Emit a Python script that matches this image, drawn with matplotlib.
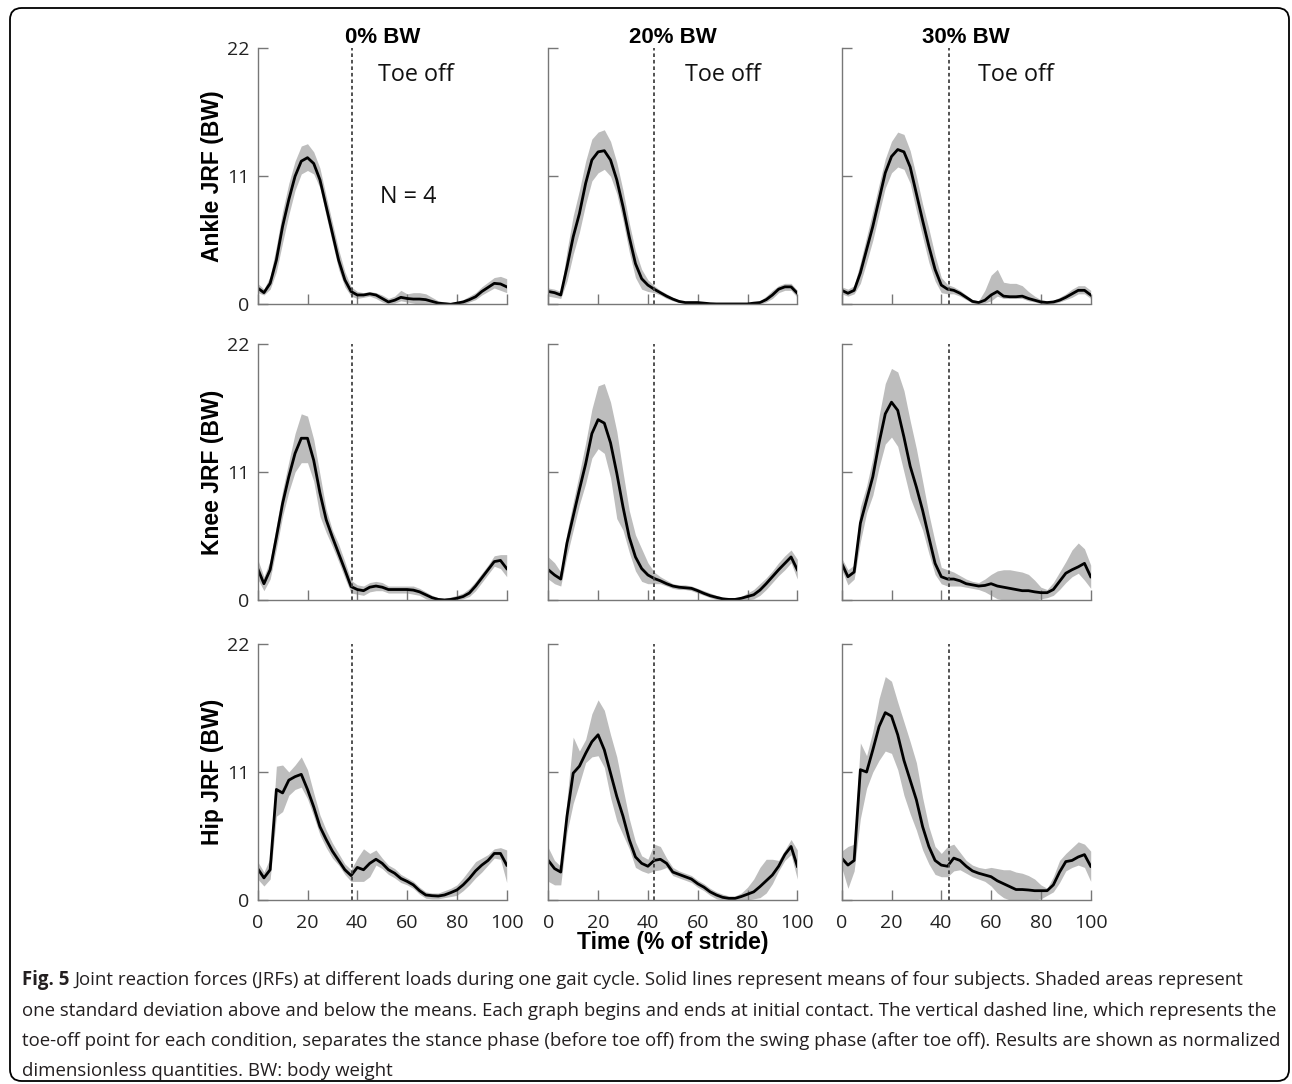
import matplotlib.pyplot as plt
from matplotlib.patches import FancyBboxPatch

# stride samples (% of stride)
stride = [0, 2.5, 5, 7.5, 10, 12.5, 15, 17.5, 20, 22.5, 25, 27.5, 30, 32.5, 35, 37.5, 40,
          42.5, 45, 47.5, 50, 52.5, 55, 57.5, 60, 62.5, 65, 67.5, 70, 72.5, 75, 77.5, 80,
          82.5, 85, 87.5, 90, 92.5, 95, 97.5, 100]

loads = ["0% BW", "20% BW", "30% BW"]
joints = ["Ankle JRF (BW)", "Knee JRF (BW)", "Hip JRF (BW)"]
toe_off = [38.0, 42.3, 43.0]

# ---- ankle ----
ankle_0_mean = [1.4, 1.0, 1.8, 3.8, 6.7, 9.0, 11.0, 12.3, 12.6, 12.1, 10.7, 8.4, 6.1, 3.8, 2.1, 1.1, 0.8,
                0.8, 0.9, 0.8, 0.5, 0.2, 0.35, 0.6, 0.5, 0.45, 0.45, 0.4, 0.25, 0.1, 0.05, 0.0, 0.1,
                0.2, 0.4, 0.65, 1.1, 1.45, 1.8, 1.75, 1.5]
ankle_0_lo = [1.0, 0.8, 1.3, 2.8, 5.3, 7.7, 9.8, 11.2, 11.5, 11.2, 10.0, 7.6, 5.3, 3.0, 1.5, 0.7, 0.5,
              0.6, 0.7, 0.5, 0.2, 0.0, 0.1, 0.3, 0.2, 0.1, 0.0, 0.0, 0.0, 0.0, 0.0, 0.0, 0.0,
              0.0, 0.2, 0.4, 0.8, 1.1, 1.4, 1.2, 1.0]
ankle_0_hi = [1.8, 1.3, 2.4, 5.0, 8.0, 10.4, 12.3, 13.6, 13.8, 13.1, 11.7, 9.3, 7.0, 4.7, 2.8, 1.5, 1.1,
              1.0, 1.1, 1.0, 0.8, 0.5, 0.7, 1.2, 0.9, 1.0, 1.0, 0.9, 0.6, 0.3, 0.2, 0.15, 0.25,
              0.4, 0.7, 1.0, 1.5, 1.9, 2.3, 2.4, 2.2]

ankle_20_mean = [1.1, 1.0, 0.8, 3.2, 5.8, 7.8, 10.4, 12.4, 13.1, 13.2, 12.4, 10.7, 8.4, 5.8, 3.5, 2.2, 1.65,
                 1.3, 1.0, 0.7, 0.45, 0.25, 0.15, 0.15, 0.15, 0.1, 0.05, 0.03, 0.03, 0.03, 0.03, 0.03, 0.03,
                 0.1, 0.15, 0.4, 0.8, 1.3, 1.5, 1.5, 0.95]
ankle_20_lo = [0.7, 0.6, 0.5, 2.0, 4.3, 6.2, 8.6, 10.6, 11.3, 11.6, 11.0, 9.5, 7.2, 4.5, 2.3, 1.3, 1.1,
               1.0, 0.8, 0.5, 0.3, 0.15, 0.1, 0.05, 0.05, 0.0, 0.0, 0.0, 0.0, 0.0, 0.0, 0.0, 0.0,
               0.0, 0.0, 0.2, 0.5, 1.0, 1.2, 1.2, 0.6]
ankle_20_hi = [1.4, 1.3, 1.1, 4.6, 7.6, 9.8, 12.3, 14.2, 14.8, 15.0, 14.0, 12.2, 9.8, 7.0, 4.6, 3.0, 2.1,
               1.6, 1.2, 0.9, 0.6, 0.35, 0.25, 0.25, 0.25, 0.2, 0.15, 0.1, 0.1, 0.1, 0.1, 0.1, 0.1,
               0.2, 0.3, 0.7, 1.2, 1.6, 1.8, 1.8, 1.2]

ankle_30_mean = [1.2, 0.95, 1.2, 2.7, 4.7, 6.7, 9.0, 11.3, 12.7, 13.3, 13.1, 11.8, 9.5, 7.2, 5.0, 3.0, 1.65,
                 1.3, 1.2, 0.95, 0.6, 0.25, 0.15, 0.35, 0.8, 1.1, 0.7, 0.65, 0.65, 0.7, 0.5, 0.35, 0.2,
                 0.15, 0.2, 0.35, 0.6, 0.9, 1.2, 1.2, 0.8]
ankle_30_lo = [0.9, 0.7, 0.9, 1.8, 3.6, 5.5, 7.8, 10.0, 11.3, 11.8, 11.6, 10.4, 8.0, 5.8, 3.6, 2.0, 1.0,
               0.9, 0.9, 0.7, 0.4, 0.1, 0.05, 0.1, 0.3, 0.7, 0.5, 0.5, 0.5, 0.5, 0.3, 0.2, 0.05,
               0.0, 0.05, 0.2, 0.4, 0.6, 0.9, 0.9, 0.5]
ankle_30_hi = [1.5, 1.3, 1.6, 3.6, 5.8, 8.0, 10.3, 12.5, 14.0, 14.8, 14.6, 13.2, 11.0, 8.6, 6.5, 4.2, 2.3,
               1.7, 1.5, 1.2, 0.8, 0.4, 0.3, 1.2, 2.5, 3.0, 1.9, 1.8, 1.8, 1.6, 1.1, 0.7, 0.4,
               0.3, 0.35, 0.6, 0.9, 1.3, 1.6, 1.6, 1.2]

# ---- knee ----
knee_0_mean = [2.7, 1.4, 2.6, 5.4, 8.3, 10.6, 12.6, 13.9, 13.9, 12.0, 9.2, 6.9, 5.4, 4.0, 2.6, 1.15, 0.9,
               0.8, 1.1, 1.2, 1.1, 0.9, 0.9, 0.9, 0.9, 0.85, 0.7, 0.45, 0.2, 0.05, 0.0, 0.05, 0.15,
               0.3, 0.6, 1.2, 1.9, 2.6, 3.3, 3.4, 2.7]
knee_0_lo = [1.8, 0.8, 1.8, 4.4, 7.2, 9.3, 11.0, 11.8, 11.8, 10.2, 7.2, 5.8, 4.6, 3.3, 1.9, 0.6, 0.5,
             0.4, 0.7, 0.8, 0.8, 0.6, 0.6, 0.6, 0.6, 0.5, 0.4, 0.1, 0.0, 0.0, 0.0, 0.0, 0.0,
             0.1, 0.3, 0.8, 1.5, 2.2, 2.9, 2.7, 2.0]
knee_0_hi = [3.5, 2.0, 3.4, 6.4, 9.4, 11.9, 14.3, 16.0, 15.8, 13.8, 10.8, 7.8, 6.0, 4.8, 3.3, 1.7, 1.3,
             1.2, 1.5, 1.6, 1.5, 1.2, 1.2, 1.2, 1.2, 1.2, 1.0, 0.7, 0.4, 0.2, 0.15, 0.25, 0.4,
             0.6, 1.0, 1.6, 2.3, 3.0, 3.8, 3.9, 3.9]

knee_20_mean = [2.6, 2.15, 1.8, 4.9, 7.2, 9.5, 11.7, 14.3, 15.5, 15.2, 13.5, 10.9, 8.0, 5.4, 3.7, 2.7, 2.15,
                1.85, 1.65, 1.4, 1.2, 1.1, 1.05, 1.0, 0.8, 0.57, 0.37, 0.23, 0.1, 0.05, 0.05, 0.15, 0.3,
                0.45, 0.85, 1.4, 2.0, 2.6, 3.15, 3.7, 2.6]
knee_20_lo = [1.8, 1.4, 1.2, 3.8, 6.0, 8.2, 10.0, 12.2, 13.0, 12.6, 10.5, 7.0, 6.0, 4.1, 2.5, 1.6, 1.4,
              1.4, 1.4, 1.2, 1.0, 0.9, 0.9, 0.8, 0.6, 0.4, 0.2, 0.05, 0.0, 0.0, 0.0, 0.0, 0.0,
              0.1, 0.4, 0.9, 1.5, 2.1, 2.6, 3.2, 1.8]
knee_20_hi = [3.7, 3.2, 2.4, 5.8, 8.4, 10.9, 13.5, 16.4, 18.4, 18.6, 17.0, 14.5, 11.0, 7.7, 5.6, 4.4, 3.2,
              2.4, 2.0, 1.7, 1.4, 1.3, 1.3, 1.2, 1.0, 0.8, 0.6, 0.4, 0.25, 0.15, 0.15, 0.3, 0.6,
              0.9, 1.4, 1.9, 2.5, 3.2, 3.8, 4.3, 3.5]

knee_30_mean = [3.15, 2.0, 2.4, 6.6, 8.6, 10.6, 13.5, 16.0, 17.0, 16.3, 14.0, 11.5, 9.7, 7.7, 5.4, 3.15, 2.0,
                1.8, 1.8, 1.65, 1.4, 1.3, 1.2, 1.25, 1.4, 1.2, 1.1, 1.0, 0.9, 0.8, 0.8, 0.7, 0.63,
                0.63, 0.9, 1.6, 2.3, 2.6, 2.85, 3.15, 2.0]
knee_30_lo = [2.6, 1.3, 1.8, 5.0, 7.5, 9.0, 11.4, 13.4, 14.0, 13.2, 11.0, 8.8, 7.4, 6.0, 4.0, 2.2, 1.4,
              1.2, 1.2, 1.2, 1.1, 1.0, 0.9, 0.7, 0.4, 0.1, 0.0, 0.0, 0.0, 0.0, 0.0, 0.0, 0.1,
              0.2, 0.4, 0.9, 1.5, 2.0, 2.3, 1.7, 1.0]
knee_30_hi = [3.6, 2.6, 3.0, 8.0, 9.8, 12.2, 15.8, 18.6, 19.9, 19.6, 18.0, 15.4, 13.0, 10.2, 7.4, 5.0, 2.8,
              2.6, 2.4, 2.1, 1.8, 1.6, 1.5, 1.8, 2.2, 2.5, 2.6, 2.6, 2.5, 2.4, 2.2, 1.7, 1.1,
              0.9, 1.5, 2.4, 3.3, 4.3, 4.9, 4.4, 3.0]

# ---- hip ----
hip_0_mean = [2.7, 1.9, 2.6, 9.5, 9.2, 10.3, 10.6, 10.8, 9.5, 8.0, 6.3, 5.2, 4.2, 3.4, 2.6, 2.1, 2.8,
              2.6, 3.15, 3.5, 3.15, 2.6, 2.3, 1.85, 1.6, 1.3, 0.8, 0.43, 0.37, 0.34, 0.43, 0.63, 0.86,
              1.3, 1.85, 2.5, 3.0, 3.4, 4.0, 4.0, 3.0]
hip_0_lo = [1.8, 1.2, 1.8, 7.2, 7.6, 9.0, 9.5, 9.7, 8.7, 7.2, 5.6, 4.5, 3.6, 3.0, 2.2, 1.6, 1.6,
            1.6, 2.0, 3.0, 2.7, 2.2, 1.9, 1.5, 1.3, 1.0, 0.5, 0.15, 0.1, 0.1, 0.2, 0.3, 0.4,
            0.8, 1.3, 1.9, 2.4, 3.0, 3.6, 3.5, 1.5]
hip_0_hi = [3.3, 2.4, 3.6, 11.5, 11.6, 11.0, 11.6, 12.3, 11.2, 9.2, 7.3, 6.0, 4.9, 4.0, 3.1, 2.6, 3.6,
            4.4, 4.0, 4.3, 3.6, 3.0, 2.7, 2.2, 1.9, 1.6, 1.1, 0.7, 0.6, 0.6, 0.8, 1.0, 1.3,
            1.9, 2.6, 3.3, 3.6, 3.9, 4.4, 4.5, 4.3]

hip_20_mean = [3.4, 2.7, 2.4, 7.2, 10.9, 11.5, 12.6, 13.6, 14.2, 12.9, 10.9, 8.9, 7.2, 5.2, 3.7, 3.15, 2.9,
               3.4, 3.5, 3.15, 2.4, 2.2, 2.0, 1.8, 1.4, 1.1, 0.7, 0.43, 0.23, 0.14, 0.14, 0.3, 0.5,
               0.7, 1.15, 1.65, 2.15, 2.9, 3.9, 4.6, 2.9]
hip_20_lo = [1.6, 1.3, 1.3, 5.8, 8.3, 10.0, 11.8, 12.3, 12.4, 11.4, 8.8, 6.8, 5.6, 4.4, 2.8, 2.5, 2.3,
             2.5, 2.6, 2.8, 2.1, 1.9, 1.7, 1.5, 1.1, 0.8, 0.4, 0.1, 0.0, 0.0, 0.0, 0.0, 0.0,
             0.1, 0.2, 0.6, 1.4, 2.5, 3.4, 3.9, 1.8]
hip_20_hi = [4.5, 3.4, 2.9, 8.6, 14.0, 12.8, 13.8, 16.0, 17.2, 16.3, 14.2, 12.3, 9.6, 7.0, 5.0, 3.8, 3.5,
             4.8, 4.6, 3.6, 2.8, 2.5, 2.3, 2.1, 1.7, 1.4, 1.0, 0.7, 0.5, 0.35, 0.35, 0.6, 1.1,
             1.8, 2.8, 3.5, 3.5, 3.4, 4.3, 5.2, 4.3]

hip_30_mean = [3.6, 3.0, 3.4, 11.2, 11.0, 12.9, 14.9, 16.1, 15.8, 14.2, 12.0, 10.3, 8.6, 6.3, 4.6, 3.4, 3.0,
               2.9, 3.6, 3.4, 2.9, 2.5, 2.3, 2.15, 2.0, 1.65, 1.4, 1.15, 0.9, 0.9, 0.86, 0.8, 0.8,
               0.8, 1.3, 2.4, 3.3, 3.4, 3.7, 3.9, 2.9]
hip_30_lo = [2.8, 1.0, 2.5, 7.0, 9.6, 11.0, 12.0, 12.8, 12.6, 11.2, 9.0, 7.4, 6.0, 4.3, 3.1, 2.2, 2.0,
             2.0, 2.5, 2.6, 2.3, 2.0, 1.8, 1.6, 1.2, 0.6, 0.2, 0.0, 0.0, 0.0, 0.0, 0.0, 0.1,
             0.4, 0.7, 1.5, 2.5, 2.8, 3.0, 2.8, 1.6]
hip_30_hi = [4.2, 4.6, 4.8, 13.5, 12.4, 14.5, 17.3, 19.2, 18.8, 17.0, 15.3, 13.6, 11.8, 8.8, 6.3, 4.6, 4.0,
             4.6, 4.8, 4.1, 3.4, 3.0, 2.8, 2.7, 2.8, 2.7, 2.6, 2.6, 2.4, 2.3, 2.1, 1.8, 1.3,
             1.0, 2.0, 3.4, 4.0, 4.5, 5.0, 4.8, 4.2]

panels = [
    [(ankle_0_mean, ankle_0_lo, ankle_0_hi), (ankle_20_mean, ankle_20_lo, ankle_20_hi),
     (ankle_30_mean, ankle_30_lo, ankle_30_hi)],
    [(knee_0_mean, knee_0_lo, knee_0_hi), (knee_20_mean, knee_20_lo, knee_20_hi),
     (knee_30_mean, knee_30_lo, knee_30_hi)],
    [(hip_0_mean, hip_0_lo, hip_0_hi), (hip_20_mean, hip_20_lo, hip_20_hi),
     (hip_30_mean, hip_30_lo, hip_30_hi)],
]

W, H = 1292, 1084
fig = plt.figure(figsize=(W / 100, H / 100), dpi=100)

col_left = [257.7, 548.3, 841.7]
row_top = [48.3, 344.0, 644.0]
ax_w, ax_h = 249.0, 256.0
toe_text_x = [48.5, 54.8, 54.7]

spine_col = "#777777"
band_col = "#bdbdbd"
tick_family, tick_size = "Open Sans", 14

for r in range(3):
    for c in range(3):
        ax = fig.add_axes([col_left[c] / W, 1 - (row_top[r] + ax_h) / H, ax_w / W, ax_h / H])
        mean, lo, hi = panels[r][c]
        ax.fill_between(stride, lo, hi, color=band_col, lw=0)
        ax.plot(stride, mean, color="black", lw=2.0, solid_joinstyle="round")
        ax.axvline(toe_off[c], color="#444444", lw=1.3, ls=(0, (2.0, 1.6)))
        ax.set_xlim(0, 100)
        ax.set_ylim(0, 22)
        ax.set_xticks([0, 20, 40, 60, 80, 100])
        ax.set_yticks([0, 11, 22])
        for s in ("top", "right"):
            ax.spines[s].set_visible(False)
        for s in ("left", "bottom"):
            ax.spines[s].set_color(spine_col)
            ax.spines[s].set_linewidth(1.0)
        ax.tick_params(direction="in", length=7.5, width=1.0, color=spine_col,
                       labelcolor="#222222")
        ax.tick_params(axis="y", pad=6)
        ax.tick_params(axis="x", pad=10)
        for lab in ax.get_xticklabels() + ax.get_yticklabels():
            lab.set_fontfamily(tick_family)
            lab.set_fontsize(tick_size)
        if c == 0:
            ax.set_ylabel(joints[r], family="Liberation Sans", weight="bold",
                          fontsize=16.5, labelpad=2)
        else:
            ax.tick_params(axis="y", labelleft=False)
        if r != 2:
            ax.tick_params(axis="x", labelbottom=False)
        if r == 0:
            ax.set_title(loads[c], family="Liberation Sans", weight="bold",
                         fontsize=16, pad=4)
            ax.text(toe_text_x[c], 19.7, "Toe off", family="Open Sans", fontsize=16.8,
                    va="center", ha="left", color="#111111")
            if c == 0:
                ax.text(49.1, 9.2, "N = 4", family="Open Sans", fontsize=16.8,
                        va="center", ha="left", color="#111111")

fig.text(672.5 / W, 1 - 942 / H, "Time (% of stride)", family="Liberation Sans",
         weight="bold", fontsize=16.5, ha="center", va="center")

# caption
cap_first = ("Joint reaction forces (JRFs) at different loads during one gait cycle. "
             "Solid lines represent means of four subjects. Shaded areas represent")
cap_rest = [
    "one standard deviation above and below the means. Each graph begins and ends at "
    "initial contact. The vertical dashed line, which represents the",
    "toe-off point for each condition, separates the stance phase (before toe off) from "
    "the swing phase (after toe off). Results are shown as normalized",
    "dimensionless quantities. BW: body weight",
]
cap_x = 22 / W
cap_y = [980, 1011, 1041, 1071]
cap_size = 13.45
cap_col = "#231f20"
t = fig.text(cap_x, 1 - cap_y[0] / H, "Fig. 5", family="Open Sans", weight="bold",
             fontsize=cap_size, va="center", ha="left", color=cap_col)
renderer = fig.canvas.get_renderer()
bb = t.get_window_extent(renderer)
fig.text((bb.x1 + 5) / W, 1 - cap_y[0] / H, cap_first, family="Open Sans",
         fontsize=cap_size, va="center", ha="left", color=cap_col)
for line, yy in zip(cap_rest, cap_y[1:]):
    fig.text(cap_x, 1 - yy / H, line, family="Open Sans", fontsize=cap_size,
             va="center", ha="left", color=cap_col)

# rounded frame
frame = FancyBboxPatch((10 / W, 1 - 1081 / H), 1279 / W, (1081 - 8) / H,
                       boxstyle="round,pad=0,rounding_size=0.009",
                       transform=fig.transFigure, fill=False, ec="black", lw=1.3,
                       mutation_aspect=W / H)
fig.patches.append(frame)

fig.savefig("out.png", dpi=100)
